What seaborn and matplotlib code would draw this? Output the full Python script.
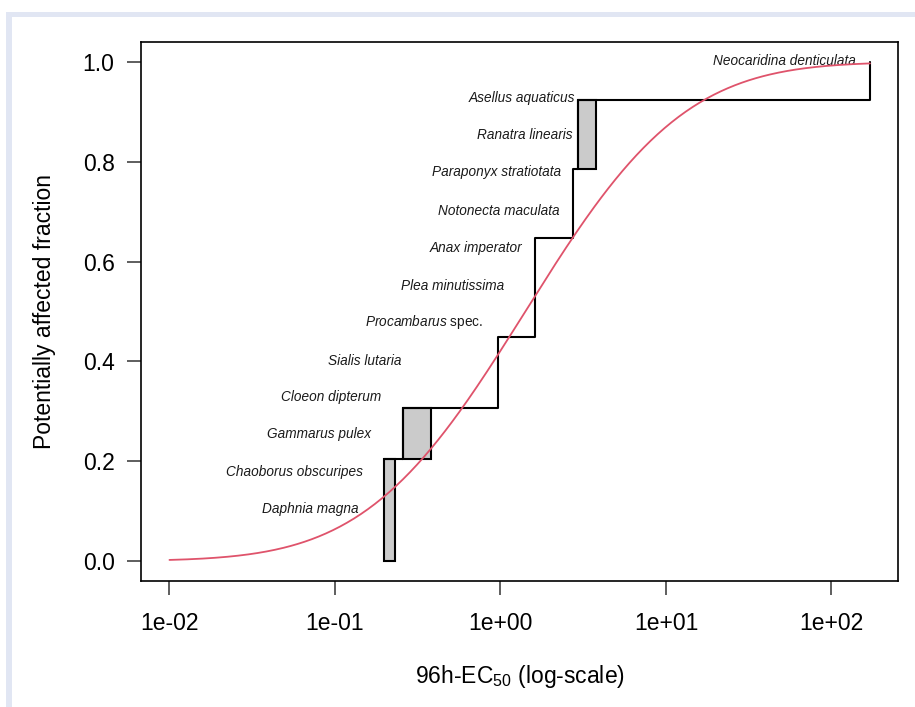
import math
import numpy as np
import matplotlib
matplotlib.use("Agg")
import matplotlib.pyplot as plt
from matplotlib.patches import Rectangle
import seaborn as sns

## data
# step line of the empirical distribution (steps-post)
step_x = [0.1986, 0.2587, 0.962, 1.616, 2.742, 2.93, 170.9]
step_y = [0.2044, 0.3066, 0.4489, 0.6473, 0.7856, 0.9238, 1.0]

# grey boxes for species with a range of EC50 values
box_x0 = [0.1986, 0.2587, 2.93]
box_x1 = [0.2296, 0.380, 3.76]
box_y0 = [0.0, 0.2044, 0.7856]
box_y1 = [0.2044, 0.3066, 0.9238]

# fitted log-normal SSD (log10 scale)
fit_mu = 0.15
fit_sigma = 0.755
fit_xmin = 0.01
fit_xmax = 170.9

# species labels (right end of text, vertical centre)
species = ["Daphnia magna", "Chaoborus obscuripes", "Gammarus pulex",
           "Cloeon dipterum", "Sialis lutaria", "Procambarus",
           "Plea minutissima", "Anax imperator", "Notonecta maculata",
           "Paraponyx stratiotata", "Ranatra linearis", "Asellus aquaticus",
           "Neocaridina denticulata"]
label_x = [0.1395, 0.1476, 0.165, 0.190, 0.254, 0.784, 1.05, 1.349,
           2.29, 2.34, 2.74, 2.82, 140.6]
label_y = [0.1036, 0.1790, 0.2539, 0.3293, 0.4008, 0.4790, 0.5511, 0.6279,
           0.7014, 0.7786, 0.8537, 0.9279, 1.0020]

x_ticks = [0.01, 0.1, 1, 10, 100]
x_tick_labels = ["1e-02", "1e-01", "1e+00", "1e+01", "1e+02"]
y_ticks = [0.0, 0.2, 0.4, 0.6, 0.8, 1.0]
y_tick_labels = ["0.0", "0.2", "0.4", "0.6", "0.8", "1.0"]

sns.set_style("ticks")
plt.rcParams['font.family'] = ['Liberation Sans', 'DejaVu Sans']
plt.rcParams['text.color'] = 'black'
plt.rcParams['axes.labelcolor'] = 'black'
plt.rcParams['mathtext.fontset'] = 'custom'
plt.rcParams['mathtext.rm'] = 'Liberation Sans'
plt.rcParams['mathtext.it'] = 'Liberation Sans:italic'
plt.rcParams['mathtext.default'] = 'regular'

fig = plt.figure(figsize=(9.15, 7.07), dpi=100)
ax = fig.add_axes([141 / 915, 126 / 707, 757 / 915, 539 / 707])

## the light frame around the figure
frame_col = '#e1e6f3'
fig.add_artist(Rectangle((6 / 915, 0), 6 / 915, 695 / 707, transform=fig.transFigure,
                         color=frame_col, lw=0, zorder=0))
fig.add_artist(Rectangle((6 / 915, 690 / 707), 909 / 915, 5 / 707, transform=fig.transFigure,
                         color=frame_col, lw=0, zorder=0))

## fitted curve
lx = np.linspace(math.log10(fit_xmin), math.log10(fit_xmax), 400)
fit_y = [0.5 * (1 + math.erf((v - fit_mu) / (fit_sigma * math.sqrt(2)))) for v in lx]
sns.lineplot(x=10 ** lx, y=fit_y, color='#DF536B', lw=1.3, ax=ax, zorder=4)

## grey boxes
for x0, x1, y0, y1 in zip(box_x0, box_x1, box_y0, box_y1):
    ax.add_patch(Rectangle((x0, y0), x1 - x0, y1 - y0, facecolor='#cbcbcb',
                           edgecolor='black', lw=1.5, zorder=2))

## step line
sns.lineplot(x=step_x, y=step_y, drawstyle='steps-post', color='black',
             lw=1.5, ax=ax, estimator=None, zorder=3)

## species labels
for name, x, y in zip(species, label_x, label_y):
    if name == "Procambarus":
        ax.text(x, y, r"$\mathit{Procambarus}$ spec.", ha='right', va='center',
                fontsize=9.8, color='#1a1a1a')
    else:
        ax.text(x, y, name, ha='right', va='center', fontsize=9.8,
                fontstyle='italic', color='#1a1a1a')

ax.set_xscale('log')
ax.set_xlim(10 ** -2.172, 10 ** 2.402)
ax.set_ylim(-0.04, 1.04)
ax.set_xticks(x_ticks)
ax.set_xticklabels(x_tick_labels)
ax.set_yticks(y_ticks)
ax.set_yticklabels(y_tick_labels)
ax.minorticks_off()
ax.tick_params(axis='both', length=10, width=1.1, color='#333333',
               labelsize=16.5, labelcolor='black')
ax.tick_params(axis='x', pad=12)
ax.tick_params(axis='y', pad=9)
for s in ax.spines.values():
    s.set_visible(True)
    s.set_linewidth(1.2)
    s.set_color('black')

ax.set_xlabel("96h-EC$_{50}$ (log-scale)", fontsize=16.5)
ax.set_ylabel("Potentially affected fraction", fontsize=16.5)
ax.xaxis.set_label_coords(0.5, -0.152)
ax.yaxis.set_label_coords(-0.127, 0.5)
ax.yaxis.label.set_verticalalignment('center')

fig.savefig("out.png", dpi=100, facecolor='white')
